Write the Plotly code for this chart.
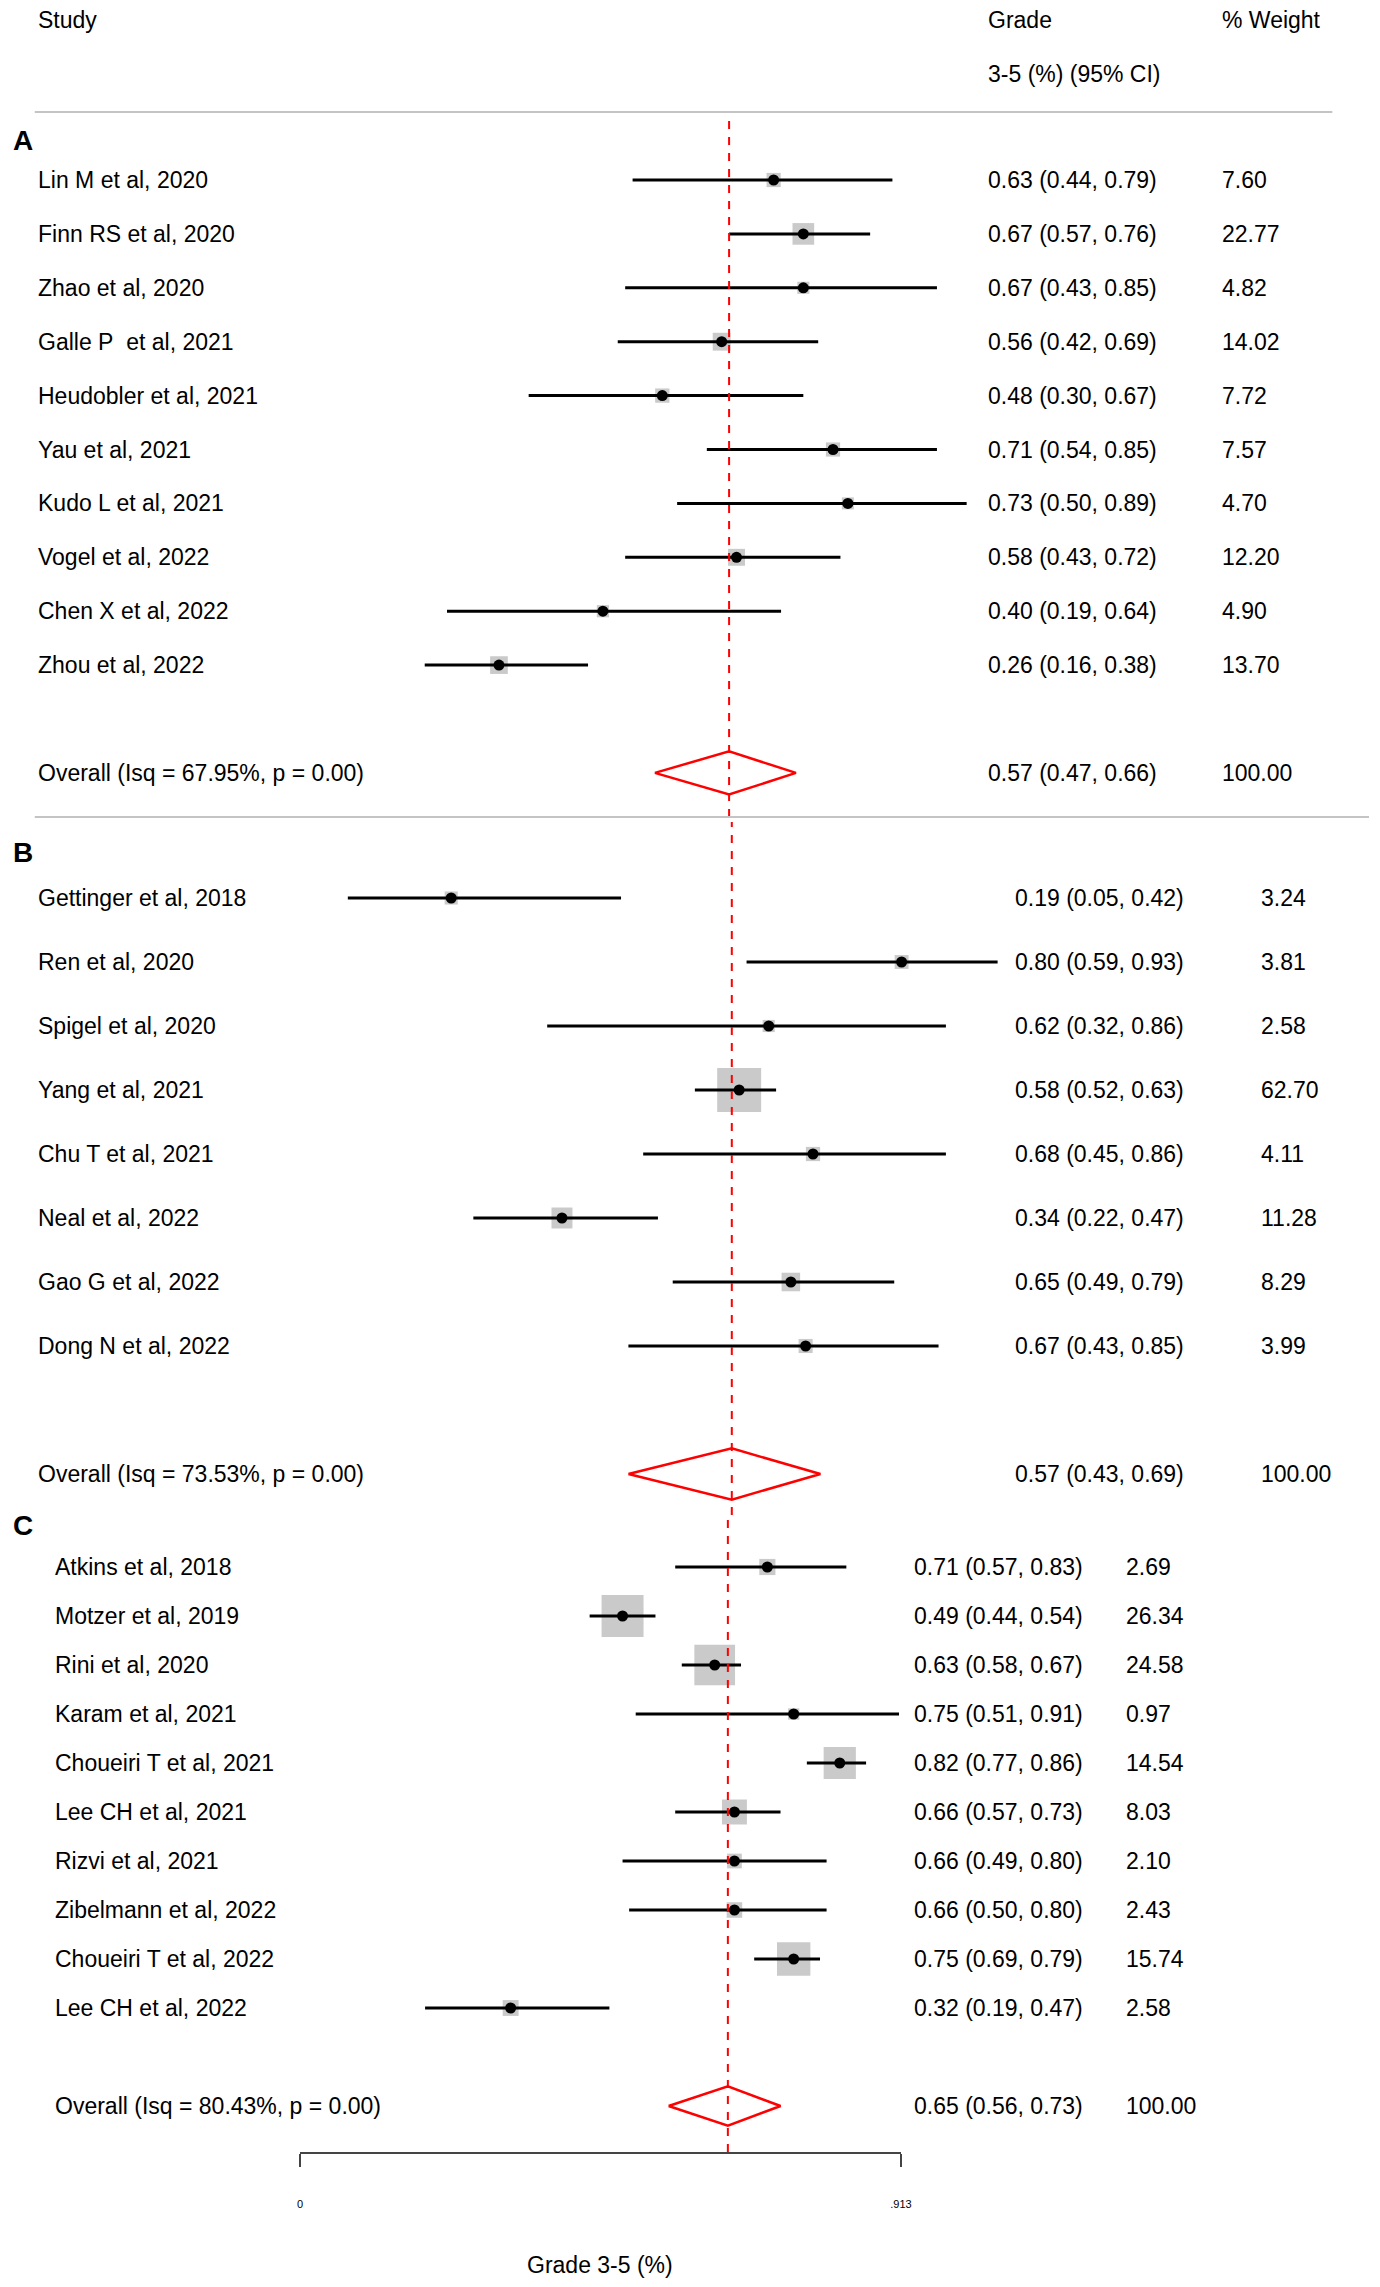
import numpy as np
import plotly.graph_objects as go

# ---- data ----
a_studies = ["Lin M et al, 2020", "Finn RS et al, 2020", "Zhao et al, 2020", "Galle P\u00a0 et al, 2021",
             "Heudobler et al, 2021", "Yau et al, 2021", "Kudo L et al, 2021", "Vogel et al, 2022",
             "Chen X et al, 2022", "Zhou et al, 2022"]
a_est = [0.63, 0.67, 0.67, 0.56, 0.48, 0.71, 0.73, 0.58, 0.40, 0.26]
a_lo = [0.44, 0.57, 0.43, 0.42, 0.30, 0.54, 0.50, 0.43, 0.19, 0.16]
a_hi = [0.79, 0.76, 0.85, 0.69, 0.67, 0.85, 0.89, 0.72, 0.64, 0.38]
a_wt = [7.60, 22.77, 4.82, 14.02, 7.72, 7.57, 4.70, 12.20, 4.90, 13.70]
a_overall = [0.57, 0.47, 0.66]
a_isq = 67.95

b_studies = ["Gettinger et al, 2018", "Ren et al, 2020", "Spigel et al, 2020", "Yang et al, 2021",
             "Chu T et al, 2021", "Neal et al, 2022", "Gao G et al, 2022", "Dong N et al, 2022"]
b_est = [0.19, 0.80, 0.62, 0.58, 0.68, 0.34, 0.65, 0.67]
b_lo = [0.05, 0.59, 0.32, 0.52, 0.45, 0.22, 0.49, 0.43]
b_hi = [0.42, 0.93, 0.86, 0.63, 0.86, 0.47, 0.79, 0.85]
b_wt = [3.24, 3.81, 2.58, 62.70, 4.11, 11.28, 8.29, 3.99]
b_overall = [0.57, 0.43, 0.69]
b_isq = 73.53

c_studies = ["Atkins et al, 2018", "Motzer et al, 2019", "Rini et al, 2020", "Karam et al, 2021",
             "Choueiri T et al, 2021", "Lee CH et al, 2021", "Rizvi et al, 2021", "Zibelmann et al, 2022",
             "Choueiri T et al, 2022", "Lee CH et al, 2022"]
c_est = [0.71, 0.49, 0.63, 0.75, 0.82, 0.66, 0.66, 0.66, 0.75, 0.32]
c_lo = [0.57, 0.44, 0.58, 0.51, 0.77, 0.57, 0.49, 0.50, 0.69, 0.19]
c_hi = [0.83, 0.54, 0.67, 0.91, 0.86, 0.73, 0.80, 0.80, 0.79, 0.47]
c_wt = [2.69, 26.34, 24.58, 0.97, 14.54, 8.03, 2.10, 2.43, 15.74, 2.58]
c_overall = [0.65, 0.56, 0.73]
c_isq = 80.43

p_value = 0.00
overall_weight = 100.00
axis_ticks = [0, 0.913]
axis_ticktext = ["0", ".913"]
axis_title = "Grade 3-5 (%)"

# ---- layout (page pixels) ----
W, H = 1380, 2287
OFF = 8  # default body margin of the html page
FW, FH = W - OFF, H - OFF
FONT = "Liberation Sans, Arial, sans-serif"
FS = 23
RED = "#ff0000"
BOX = "#b4b4b4"


def px(x):
    return max(0.0, (x - OFF) / FW)


def py(y):
    return 1 - (y - OFF) / FH


panels = [
    dict(name="A", studies=a_studies, est=a_est, lo=a_lo, hi=a_hi, wt=a_wt, overall=a_overall, isq=a_isq,
         zero=306, scale=750, row0=180, step=53.9, top=112, bottom=817, box=3.7,
         lab_x=33, est_x=993, wt_x=1229, letter_y=140),
    dict(name="B", studies=b_studies, est=b_est, lo=b_lo, hi=b_hi, wt=b_wt, overall=b_overall, isq=b_isq,
         zero=311, scale=746, row0=898, step=64.0, top=817, bottom=1515, box=5.05,
         lab_x=33, est_x=1020, wt_x=1269, letter_y=852),
    dict(name="C", studies=c_studies, est=c_est, lo=c_lo, hi=c_hi, wt=c_wt, overall=c_overall, isq=c_isq,
         zero=300, scale=665, row0=1567, step=49.0, top=1515, bottom=2152, box=7.4,
         lab_x=50, est_x=918, wt_x=1132, letter_y=1525),
]

fig = go.Figure()
annotations = []
shapes = []


def txt(text, x, y, yref="paper", size=FS, bold=False, xanchor="left"):
    annotations.append(dict(text=f"<b>{text}</b>" if bold else text, x=x, y=y, xref="paper", yref=yref,
                            xanchor=xanchor, yanchor="middle", showarrow=False,
                            font=dict(family=FONT, size=size, color="black")))


for i, p in enumerate(panels):
    k = "" if i == 0 else str(i + 1)
    xa, ya = "x" + k, "y" + k
    n = len(p["studies"])
    rows = list(range(n))
    orow = n + 1

    # boxes sized by weight
    fig.add_trace(go.Scatter(x=p["est"], y=rows, mode="markers", xaxis=xa, yaxis=ya,
                             marker=dict(symbol="square", color=BOX,
                                         size=[4 + p["box"] * np.sqrt(w) for w in p["wt"]], line=dict(width=0))))
    # confidence intervals
    cx, cy = [], []
    for r, lo, hi in zip(rows, p["lo"], p["hi"]):
        cx += [lo, hi, None]
        cy += [r, r, None]
    fig.add_trace(go.Scatter(x=cx, y=cy, mode="lines", xaxis=xa, yaxis=ya,
                             line=dict(color="black", width=3)))
    # point estimates
    fig.add_trace(go.Scatter(x=p["est"], y=rows, mode="markers", xaxis=xa, yaxis=ya,
                             marker=dict(symbol="circle", color="black", size=11)))
    # pooled diamond
    oe, ol, oh = p["overall"]
    hh = 0.4
    fig.add_trace(go.Scatter(x=[ol, oe, oh, oe, ol], y=[orow, orow - hh, orow, orow + hh, orow],
                             mode="lines", xaxis=xa, yaxis=ya, line=dict(color=RED, width=2.5)))
    # reference line at pooled estimate
    shapes.append(dict(type="line", xref=xa, yref=ya + " domain", x0=oe, x1=oe, y0=0, y1=0.993,
                       line=dict(color=RED, width=2, dash="8px,8px")))

    # axes
    ydom = [py(p["bottom"]), py(p["top"])]
    yrange = [(p["bottom"] - p["row0"]) / p["step"], (p["top"] - p["row0"]) / p["step"]]
    fig.layout["yaxis" + k] = dict(domain=ydom, range=yrange, visible=False, anchor=xa, fixedrange=True)
    if p["name"] != "C":
        xr = [(OFF - p["zero"]) / p["scale"], (W - p["zero"]) / p["scale"]]
        fig.layout["xaxis" + k] = dict(domain=[0, 1], range=xr, visible=False, anchor=ya)
    else:
        xmax = axis_ticks[-1]
        fig.layout["xaxis" + k] = dict(domain=[px(p["zero"]), px(p["zero"] + xmax * p["scale"])],
                                       range=[0, xmax], anchor=ya, showgrid=False, zeroline=False,
                                       showline=True, linecolor="#444", linewidth=2,
                                       ticks="outside", ticklen=13, tickwidth=2, tickcolor="#444",
                                       tickvals=axis_ticks, ticktext=axis_ticktext, ticklabelstandoff=28,
                                       tickfont=dict(family=FONT, size=11, color="black"))

    # text columns
    for r, s, e, lo, hi, w in zip(rows, p["studies"], p["est"], p["lo"], p["hi"], p["wt"]):
        txt(s, px(p["lab_x"]), r, yref=ya)
        txt(f"{e:.2f} ({lo:.2f}, {hi:.2f})", px(p["est_x"]), r, yref=ya)
        txt(f"{w:.2f}", px(p["wt_x"]), r, yref=ya)
    txt(f"Overall (Isq = {p['isq']:.2f}%, p = {p_value:.2f})", px(p["lab_x"]), orow, yref=ya)
    txt(f"{oe:.2f} ({ol:.2f}, {oh:.2f})", px(p["est_x"]), orow, yref=ya)
    txt(f"{overall_weight:.2f}", px(p["wt_x"]), orow, yref=ya)
    txt(p["name"], px(0), py(p["letter_y"]), size=28, bold=True)

# header
txt("Study", px(33), py(20))
txt("Grade", px(993), py(20))
txt("3-5 (%) (95% CI)", px(993), py(74))
txt("% Weight", px(1229), py(20))
# axis title
txt(axis_title, px(603), py(2265), xanchor="center")

# separators
shapes.append(dict(type="line", xref="paper", yref="paper", x0=px(32), x1=px(1343), y0=py(112), y1=py(112),
                   line=dict(color="#c4c4c4", width=2)))
shapes.append(dict(type="line", xref="paper", yref="paper", x0=px(32), x1=1, y0=py(817), y1=py(817),
                   line=dict(color="#c4c4c4", width=2)))

fig.update_layout(width=FW, height=FH, margin=dict(l=0, r=0, t=0, b=0), showlegend=False,
                  paper_bgcolor="white", plot_bgcolor="white", hovermode=False,
                  annotations=annotations, shapes=shapes)

fig.write_html("out.html")
